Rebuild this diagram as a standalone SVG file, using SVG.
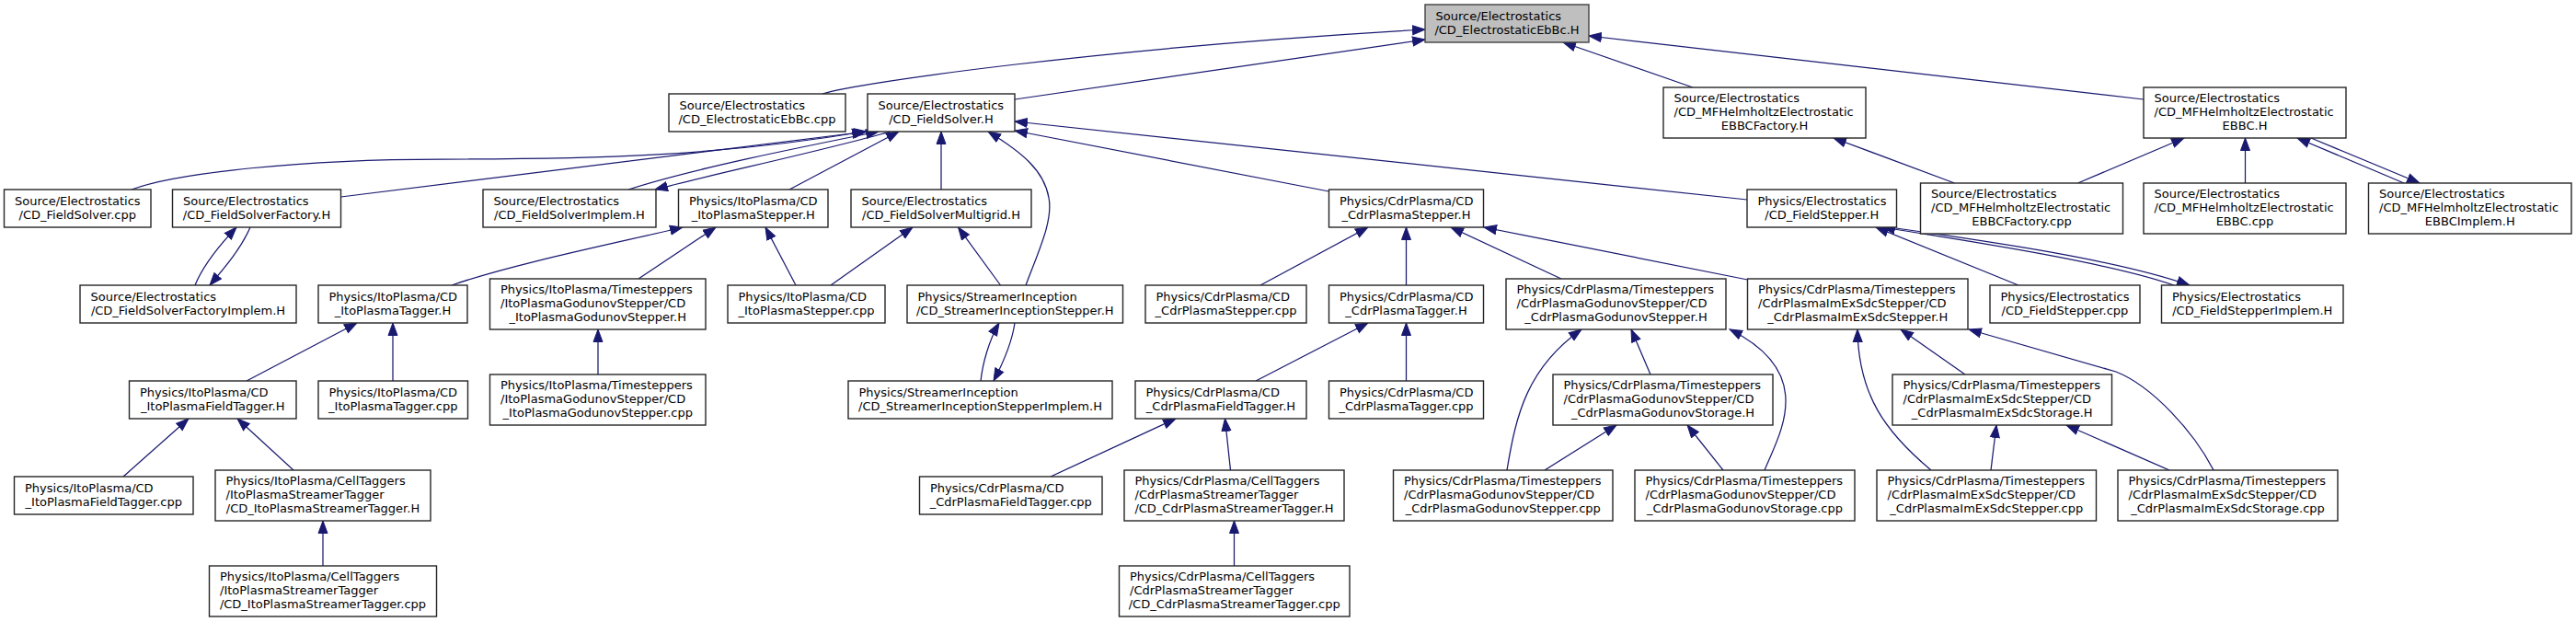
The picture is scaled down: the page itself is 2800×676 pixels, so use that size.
<svg xmlns="http://www.w3.org/2000/svg" width="2800" height="676" viewBox="0 0 2800 676">
<style>
.n rect{fill:#ffffff;stroke:#262626;stroke-width:1.4}
.n.root rect{fill:#bfbfbf;stroke:#404040}
.n text{font-family:"DejaVu Sans",sans-serif;font-size:13px;fill:#000000}
.n text.c{text-anchor:middle}
.e path{fill:none;stroke:#191970;stroke-width:1.25;marker-end:url(#a)}
</style>
<defs>
<marker id="a" markerUnits="userSpaceOnUse" markerWidth="16" markerHeight="12" refX="14" refY="6" orient="auto" viewBox="0 0 16 12">
<path d="M0.5,1 L14,6 L0.5,11 z" fill="#191970" stroke="#191970" stroke-width="1"/>
</marker>
</defs>
<rect x="0" y="0" width="2800" height="676" fill="#ffffff"/>

<g id="edges" class="e">
<path d="M894,102 C930,90 1200,52 1549,32"/>
<path d="M1103,108 L1549,43"/>
<path d="M1840,95 L1699,46"/>
<path d="M2330,108 L1727,39"/>
<path d="M143,206 C190,188 330,173 480,173 C640,173 780,170 940,143"/>
<path d="M370.5,214 L942,143"/>
<path d="M683,206 C750,184 870,160 955,143"/>
<path d="M968,143 C890,165 780,188 712,206"/>
<path d="M858,206 L977,143"/>
<path d="M1023,206 L1023,143"/>
<path d="M1115,310 C1128,275 1145,240 1140,215 C1135,185 1110,165 1074,143"/>
<path d="M1444.5,208 L1103,142"/>
<path d="M1899,217 L1103,132"/>
<path d="M212,310 C220,290 240,265 257,247"/>
<path d="M272,247 C262,270 245,290 228,310"/>
<path d="M491,310 C560,286 680,262 742,247"/>
<path d="M694,303 L778,247"/>
<path d="M865,310 L832,247"/>
<path d="M903,310 L992,247"/>
<path d="M1087.5,310 L1041.5,247"/>
<path d="M1066,414 C1068,395 1075,370 1086,351"/>
<path d="M1103,351 C1100,372 1090,395 1080,414"/>
<path d="M1370,310 L1487,247"/>
<path d="M1528.5,310 L1528.5,247"/>
<path d="M1697,303 L1577,247"/>
<path d="M1899.5,304 L1613,247"/>
<path d="M2194,310 L2039,247"/>
<path d="M2363,310 C2300,288 2180,268 2046,247"/>
<path d="M2054,247 C2160,262 2300,282 2380,310"/>
<path d="M2124.5,199 L1993,150"/>
<path d="M2258.5,199 L2374,150"/>
<path d="M2440.5,199 L2440.5,150"/>
<path d="M2613,199 L2497,150"/>
<path d="M2512,150 L2630,199"/>
<path d="M268,414 L388,351"/>
<path d="M427,414 L427,351"/>
<path d="M650,407 L650,358"/>
<path d="M1365,414 L1487,351"/>
<path d="M1528.5,414 L1528.5,351"/>
<path d="M1794,407 L1773,358"/>
<path d="M1638,511 C1648,450 1660,400 1719,358"/>
<path d="M1679,511 L1757,462"/>
<path d="M1873,511 L1834,462"/>
<path d="M1918,511 C1935,470 1975,405 1880,358"/>
<path d="M2099,511 C2050,470 2020,430 2019,358"/>
<path d="M2136,407 L2066,358"/>
<path d="M2164,511 L2170,462"/>
<path d="M2358,511 L2246,462"/>
<path d="M2406,511 C2385,470 2340,420 2300,404 L2140,358"/>
<path d="M134,518 L205,455"/>
<path d="M319,511 L258,455"/>
<path d="M351,615 L351,566"/>
<path d="M1142,518 L1278,455"/>
<path d="M1337.5,511 L1331.5,455"/>
<path d="M1341.5,615 L1341.5,566"/>
</g>

<g id="n1" class="n root"><rect x="1549" y="5" width="178" height="41"/><text x="1560.5" y="21.7">Source/Electrostatics</text><text class="c" x="1638" y="36.7">/CD_ElectrostaticEbBc.H</text></g>

<g id="n2" class="n"><rect x="727" y="102" width="192" height="41"/><text x="738.5" y="118.7">Source/Electrostatics</text><text class="c" x="823" y="133.7">/CD_ElectrostaticEbBc.cpp</text></g>
<g id="n3" class="n"><rect x="943" y="102" width="160" height="41"/><text x="954.5" y="118.7">Source/Electrostatics</text><text class="c" x="1023" y="133.7">/CD_FieldSolver.H</text></g>
<g id="n4" class="n"><rect x="1808" y="95" width="220" height="55"/><text x="1819.5" y="111.2">Source/Electrostatics</text><text x="1819.5" y="126.2">/CD_MFHelmholtzElectrostatic</text><text class="c" x="1918" y="141.2">EBBCFactory.H</text></g>
<g id="n5" class="n"><rect x="2330" y="95" width="220" height="55"/><text x="2341.5" y="111.2">Source/Electrostatics</text><text x="2341.5" y="126.2">/CD_MFHelmholtzElectrostatic</text><text class="c" x="2440" y="141.2">EBBC.H</text></g>

<g id="n6" class="n"><rect x="4.5" y="206" width="159.5" height="41"/><text x="16" y="222.7">Source/Electrostatics</text><text class="c" x="84.25" y="237.7">/CD_FieldSolver.cpp</text></g>
<g id="n7" class="n"><rect x="187.5" y="206" width="183" height="41"/><text x="199" y="222.7">Source/Electrostatics</text><text class="c" x="279" y="237.7">/CD_FieldSolverFactory.H</text></g>
<g id="n8" class="n"><rect x="525" y="206" width="188" height="41"/><text x="536.5" y="222.7">Source/Electrostatics</text><text class="c" x="619" y="237.7">/CD_FieldSolverImplem.H</text></g>
<g id="n9" class="n"><rect x="737.5" y="206" width="162.5" height="41"/><text x="749" y="222.7">Physics/ItoPlasma/CD</text><text class="c" x="818.75" y="237.7">_ItoPlasmaStepper.H</text></g>
<g id="n10" class="n"><rect x="925" y="206" width="196" height="41"/><text x="936.5" y="222.7">Source/Electrostatics</text><text class="c" x="1023" y="237.7">/CD_FieldSolverMultigrid.H</text></g>
<g id="n11" class="n"><rect x="1444.5" y="206" width="168" height="41"/><text x="1456" y="222.7">Physics/CdrPlasma/CD</text><text class="c" x="1528.5" y="237.7">_CdrPlasmaStepper.H</text></g>
<g id="n12" class="n"><rect x="1899" y="206" width="162.5" height="41"/><text x="1910.5" y="222.7">Physics/Electrostatics</text><text class="c" x="1980.25" y="237.7">/CD_FieldStepper.H</text></g>
<g id="n13" class="n"><rect x="2087.5" y="199" width="220" height="55"/><text x="2099" y="215.2">Source/Electrostatics</text><text x="2099" y="230.2">/CD_MFHelmholtzElectrostatic</text><text class="c" x="2197.5" y="245.2">EBBCFactory.cpp</text></g>
<g id="n14" class="n"><rect x="2330" y="199" width="220" height="55"/><text x="2341.5" y="215.2">Source/Electrostatics</text><text x="2341.5" y="230.2">/CD_MFHelmholtzElectrostatic</text><text class="c" x="2440" y="245.2">EBBC.cpp</text></g>
<g id="n15" class="n"><rect x="2574.5" y="199" width="220.5" height="55"/><text x="2586" y="215.2">Source/Electrostatics</text><text x="2586" y="230.2">/CD_MFHelmholtzElectrostatic</text><text class="c" x="2684.75" y="245.2">EBBCImplem.H</text></g>

<g id="n16" class="n"><rect x="87" y="310" width="235" height="41"/><text x="98.5" y="326.7">Source/Electrostatics</text><text class="c" x="204.5" y="341.7">/CD_FieldSolverFactoryImplem.H</text></g>
<g id="n17" class="n"><rect x="346" y="310" width="162" height="41"/><text x="357.5" y="326.7">Physics/ItoPlasma/CD</text><text class="c" x="427" y="341.7">_ItoPlasmaTagger.H</text></g>
<g id="n18" class="n"><rect x="532.5" y="303" width="234.5" height="55"/><text x="544" y="319.2">Physics/ItoPlasma/Timesteppers</text><text x="544" y="334.2">/ItoPlasmaGodunovStepper/CD</text><text class="c" x="649.75" y="349.2">_ItoPlasmaGodunovStepper.H</text></g>
<g id="n19" class="n"><rect x="791" y="310" width="171" height="41"/><text x="802.5" y="326.7">Physics/ItoPlasma/CD</text><text class="c" x="876.5" y="341.7">_ItoPlasmaStepper.cpp</text></g>
<g id="n20" class="n"><rect x="986" y="310" width="234.5" height="41"/><text x="997.5" y="326.7">Physics/StreamerInception</text><text class="c" x="1103.25" y="341.7">/CD_StreamerInceptionStepper.H</text></g>
<g id="n21" class="n"><rect x="1245" y="310" width="175" height="41"/><text x="1256.5" y="326.7">Physics/CdrPlasma/CD</text><text class="c" x="1332.5" y="341.7">_CdrPlasmaStepper.cpp</text></g>
<g id="n22" class="n"><rect x="1444.5" y="310" width="168" height="41"/><text x="1456" y="326.7">Physics/CdrPlasma/CD</text><text class="c" x="1528.5" y="341.7">_CdrPlasmaTagger.H</text></g>
<g id="n23" class="n"><rect x="1637" y="303" width="239" height="55"/><text x="1648.5" y="319.2">Physics/CdrPlasma/Timesteppers</text><text x="1648.5" y="334.2">/CdrPlasmaGodunovStepper/CD</text><text class="c" x="1756.5" y="349.2">_CdrPlasmaGodunovStepper.H</text></g>
<g id="n24" class="n"><rect x="1899.5" y="303" width="239.5" height="55"/><text x="1911" y="319.2">Physics/CdrPlasma/Timesteppers</text><text x="1911" y="334.2">/CdrPlasmaImExSdcStepper/CD</text><text class="c" x="2019.25" y="349.2">_CdrPlasmaImExSdcStepper.H</text></g>
<g id="n25" class="n"><rect x="2163" y="310" width="163" height="41"/><text x="2174.5" y="326.7">Physics/Electrostatics</text><text class="c" x="2244.5" y="341.7">/CD_FieldStepper.cpp</text></g>
<g id="n26" class="n"><rect x="2349.5" y="310" width="197.5" height="41"/><text x="2361" y="326.7">Physics/Electrostatics</text><text class="c" x="2448.25" y="341.7">/CD_FieldStepperImplem.H</text></g>

<g id="n27" class="n"><rect x="140.5" y="414" width="181.5" height="41"/><text x="152" y="430.7">Physics/ItoPlasma/CD</text><text class="c" x="231.25" y="445.7">_ItoPlasmaFieldTagger.H</text></g>
<g id="n28" class="n"><rect x="346" y="414" width="162.5" height="41"/><text x="357.5" y="430.7">Physics/ItoPlasma/CD</text><text class="c" x="427.25" y="445.7">_ItoPlasmaTagger.cpp</text></g>
<g id="n29" class="n"><rect x="532.5" y="407" width="234.5" height="55"/><text x="544" y="423.2">Physics/ItoPlasma/Timesteppers</text><text x="544" y="438.2">/ItoPlasmaGodunovStepper/CD</text><text class="c" x="649.75" y="453.2">_ItoPlasmaGodunovStepper.cpp</text></g>
<g id="n30" class="n"><rect x="922" y="414" width="287" height="41"/><text x="933.5" y="430.7">Physics/StreamerInception</text><text class="c" x="1065.5" y="445.7">/CD_StreamerInceptionStepperImplem.H</text></g>
<g id="n31" class="n"><rect x="1234" y="414" width="186" height="41"/><text x="1245.5" y="430.7">Physics/CdrPlasma/CD</text><text class="c" x="1327" y="445.7">_CdrPlasmaFieldTagger.H</text></g>
<g id="n32" class="n"><rect x="1444.5" y="414" width="168" height="41"/><text x="1456" y="430.7">Physics/CdrPlasma/CD</text><text class="c" x="1528.5" y="445.7">_CdrPlasmaTagger.cpp</text></g>
<g id="n33" class="n"><rect x="1688" y="407" width="239" height="55"/><text x="1699.5" y="423.2">Physics/CdrPlasma/Timesteppers</text><text x="1699.5" y="438.2">/CdrPlasmaGodunovStepper/CD</text><text class="c" x="1807.5" y="453.2">_CdrPlasmaGodunovStorage.H</text></g>
<g id="n34" class="n"><rect x="2057" y="407" width="238.5" height="55"/><text x="2068.5" y="423.2">Physics/CdrPlasma/Timesteppers</text><text x="2068.5" y="438.2">/CdrPlasmaImExSdcStepper/CD</text><text class="c" x="2176.25" y="453.2">_CdrPlasmaImExSdcStorage.H</text></g>

<g id="n35" class="n"><rect x="15.5" y="518" width="194.5" height="41"/><text x="27" y="534.7">Physics/ItoPlasma/CD</text><text class="c" x="112.75" y="549.7">_ItoPlasmaFieldTagger.cpp</text></g>
<g id="n36" class="n"><rect x="234" y="511" width="234" height="55"/><text x="245.5" y="527.2">Physics/ItoPlasma/CellTaggers</text><text x="245.5" y="542.2">/ItoPlasmaStreamerTagger</text><text class="c" x="351" y="557.2">/CD_ItoPlasmaStreamerTagger.H</text></g>
<g id="n37" class="n"><rect x="999.5" y="518" width="198.5" height="41"/><text x="1011" y="534.7">Physics/CdrPlasma/CD</text><text class="c" x="1098.75" y="549.7">_CdrPlasmaFieldTagger.cpp</text></g>
<g id="n38" class="n"><rect x="1222" y="511" width="239" height="55"/><text x="1233.5" y="527.2">Physics/CdrPlasma/CellTaggers</text><text x="1233.5" y="542.2">/CdrPlasmaStreamerTagger</text><text class="c" x="1341.5" y="557.2">/CD_CdrPlasmaStreamerTagger.H</text></g>
<g id="n39" class="n"><rect x="1514.5" y="511" width="238.5" height="55"/><text x="1526" y="527.2">Physics/CdrPlasma/Timesteppers</text><text x="1526" y="542.2">/CdrPlasmaGodunovStepper/CD</text><text class="c" x="1633.75" y="557.2">_CdrPlasmaGodunovStepper.cpp</text></g>
<g id="n40" class="n"><rect x="1777" y="511" width="239" height="55"/><text x="1788.5" y="527.2">Physics/CdrPlasma/Timesteppers</text><text x="1788.5" y="542.2">/CdrPlasmaGodunovStepper/CD</text><text class="c" x="1896.5" y="557.2">_CdrPlasmaGodunovStorage.cpp</text></g>
<g id="n41" class="n"><rect x="2040" y="511" width="238.5" height="55"/><text x="2051.5" y="527.2">Physics/CdrPlasma/Timesteppers</text><text x="2051.5" y="542.2">/CdrPlasmaImExSdcStepper/CD</text><text class="c" x="2159.25" y="557.2">_CdrPlasmaImExSdcStepper.cpp</text></g>
<g id="n42" class="n"><rect x="2302" y="511" width="239" height="55"/><text x="2313.5" y="527.2">Physics/CdrPlasma/Timesteppers</text><text x="2313.5" y="542.2">/CdrPlasmaImExSdcStepper/CD</text><text class="c" x="2421.5" y="557.2">_CdrPlasmaImExSdcStorage.cpp</text></g>

<g id="n43" class="n"><rect x="227.5" y="615" width="247" height="55"/><text x="239" y="631.2">Physics/ItoPlasma/CellTaggers</text><text x="239" y="646.2">/ItoPlasmaStreamerTagger</text><text class="c" x="351" y="661.2">/CD_ItoPlasmaStreamerTagger.cpp</text></g>
<g id="n44" class="n"><rect x="1216.5" y="615" width="250.5" height="55"/><text x="1228" y="631.2">Physics/CdrPlasma/CellTaggers</text><text x="1228" y="646.2">/CdrPlasmaStreamerTagger</text><text class="c" x="1341.75" y="661.2">/CD_CdrPlasmaStreamerTagger.cpp</text></g>
</svg>
